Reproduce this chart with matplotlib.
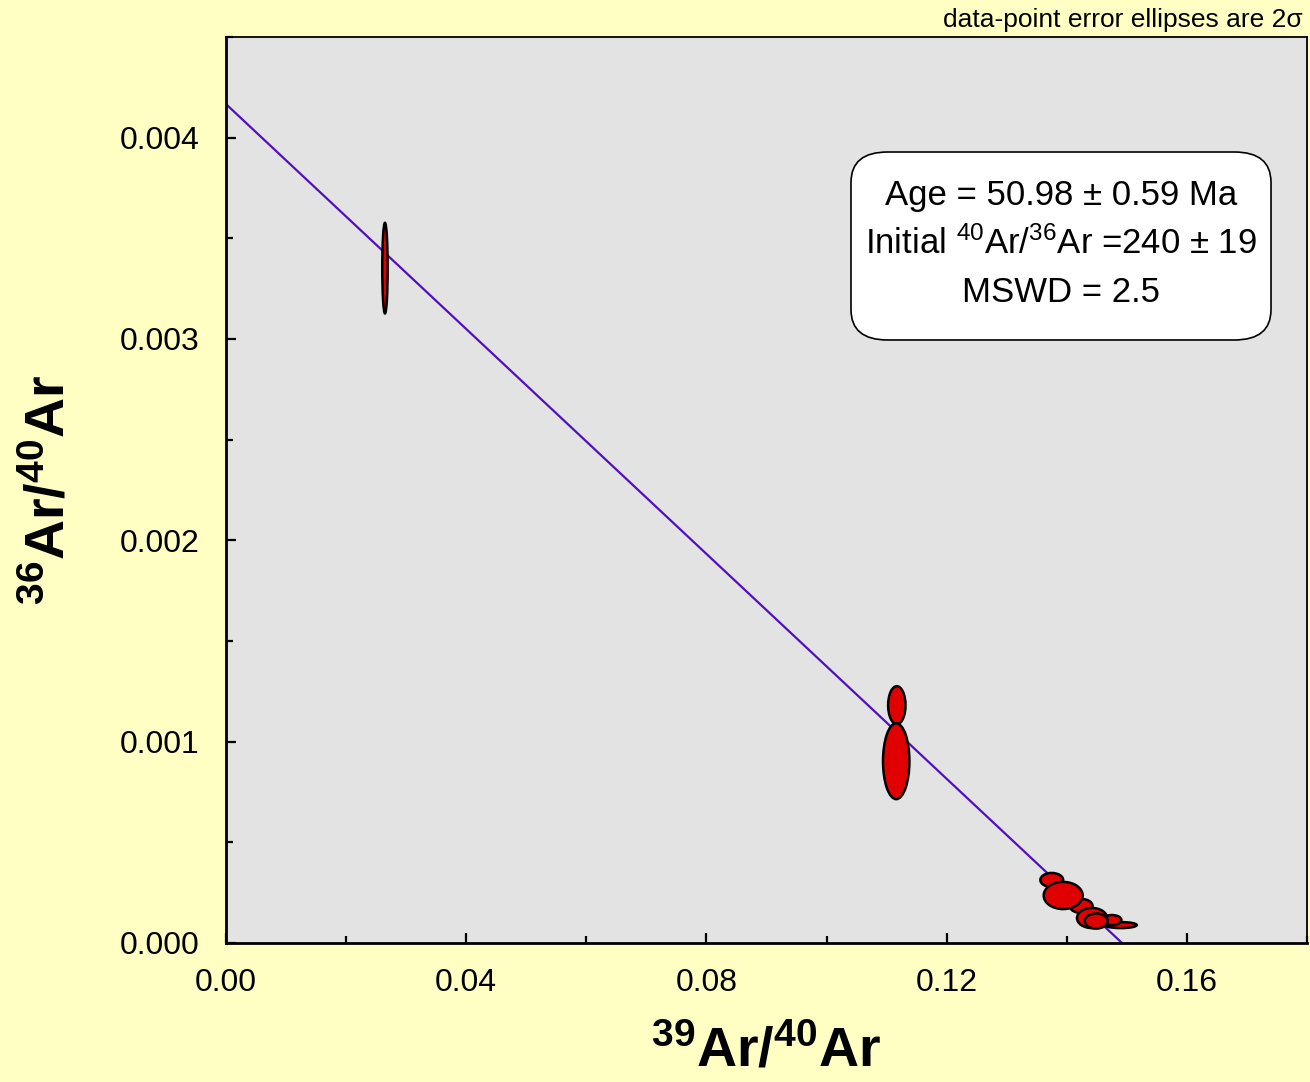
import matplotlib
matplotlib.use("Agg")
import matplotlib.pyplot as plt
from matplotlib.patches import Ellipse, FancyBboxPatch
from matplotlib.ticker import MultipleLocator, FormatStrFormatter

plt.rcParams['font.family'] = ['Liberation Sans', 'DejaVu Sans']
plt.rcParams['mathtext.default'] = 'regular'

# Data: ellipse centres and full 2-sigma extents (39Ar/40Ar, 36Ar/40Ar)
ell_x = [0.1490, 0.1475, 0.1375, 0.1424, 0.1394, 0.1442, 0.1449, 0.02647, 0.1117, 0.1116]
ell_y = [0.000089, 0.000114, 0.000313, 0.000184, 0.000236, 0.000124, 0.000109, 0.003352, 0.001181, 0.000903]
ell_w = [0.0053, 0.0032, 0.0038, 0.0038, 0.0065, 0.0050, 0.0038, 0.0009, 0.0029, 0.0044]
ell_h = [0.000030, 0.000050, 0.000070, 0.000070, 0.000135, 0.000100, 0.000075, 0.000450, 0.000189, 0.000377]

intercept = 1 / 240.0
x_intercept = 0.1492

fig = plt.figure(figsize=(13.1, 10.82), dpi=100)
fig.patch.set_facecolor('#FFFFC4')
ax = fig.add_axes([226/1310, 139/1082, (1307-226)/1310, (943-37)/1082])
ax.set_facecolor('#E3E3E3')
ax.set_xlim(0, 0.18)
ax.set_ylim(0, 0.0045)

ax.plot([0, x_intercept], [intercept, 0], color='#5010C0', lw=1.6, zorder=2)

for x, y, w, h in zip(ell_x, ell_y, ell_w, ell_h):
    ax.add_patch(Ellipse((x, y), w, h, facecolor='#E00000', edgecolor='black', lw=1.8, zorder=3))

ax.xaxis.set_major_locator(MultipleLocator(0.04))
ax.xaxis.set_minor_locator(MultipleLocator(0.02))
ax.yaxis.set_major_locator(MultipleLocator(0.001))
ax.yaxis.set_minor_locator(MultipleLocator(0.0005))
ax.xaxis.set_major_formatter(FormatStrFormatter('%.2f'))
ax.yaxis.set_major_formatter(FormatStrFormatter('%.3f'))
ax.tick_params(which='both', direction='in', top=False, right=False, labelsize=23, width=1.6)
ax.tick_params(which='major', length=7)
ax.tick_params(which='minor', length=5)
ax.tick_params(axis='x', which='major', pad=18)
ax.tick_params(axis='y', which='major', pad=19)
for s in ['left', 'bottom']:
    ax.spines[s].set_linewidth(2.0)
for s in ['top', 'right']:
    ax.spines[s].set_linewidth(1.3)

ax.set_xlabel(r'$^{39}$Ar/$^{40}$Ar', fontsize=40, fontweight='bold', labelpad=20)
ax.set_ylabel(r'$^{36}$Ar/$^{40}$Ar', fontsize=40, fontweight='bold', labelpad=31)

box = FancyBboxPatch((851/1310, (1082-340)/1082), (1271-851)/1310, (340-152)/1082,
                     boxstyle='round,pad=0,rounding_size=0.028', transform=fig.transFigure,
                     facecolor='white', edgecolor='black', lw=1.2, zorder=5)
fig.patches.append(box)
cx = 1061/1310
for yy, txt in [(195, 'Age = 50.98 ± 0.59 Ma'),
                (244, r'Initial $^{40}$Ar/$^{36}$Ar =240 ± 19'),
                (293, 'MSWD = 2.5')]:
    fig.text(cx, 1 - yy/1082, txt, ha='center', va='center', fontsize=25, zorder=6)

fig.text(1303/1310, 1 - 20/1082, 'data-point error ellipses are 2σ', ha='right', va='center', fontsize=19)

fig.savefig('out.png', dpi=100, facecolor=fig.get_facecolor())
